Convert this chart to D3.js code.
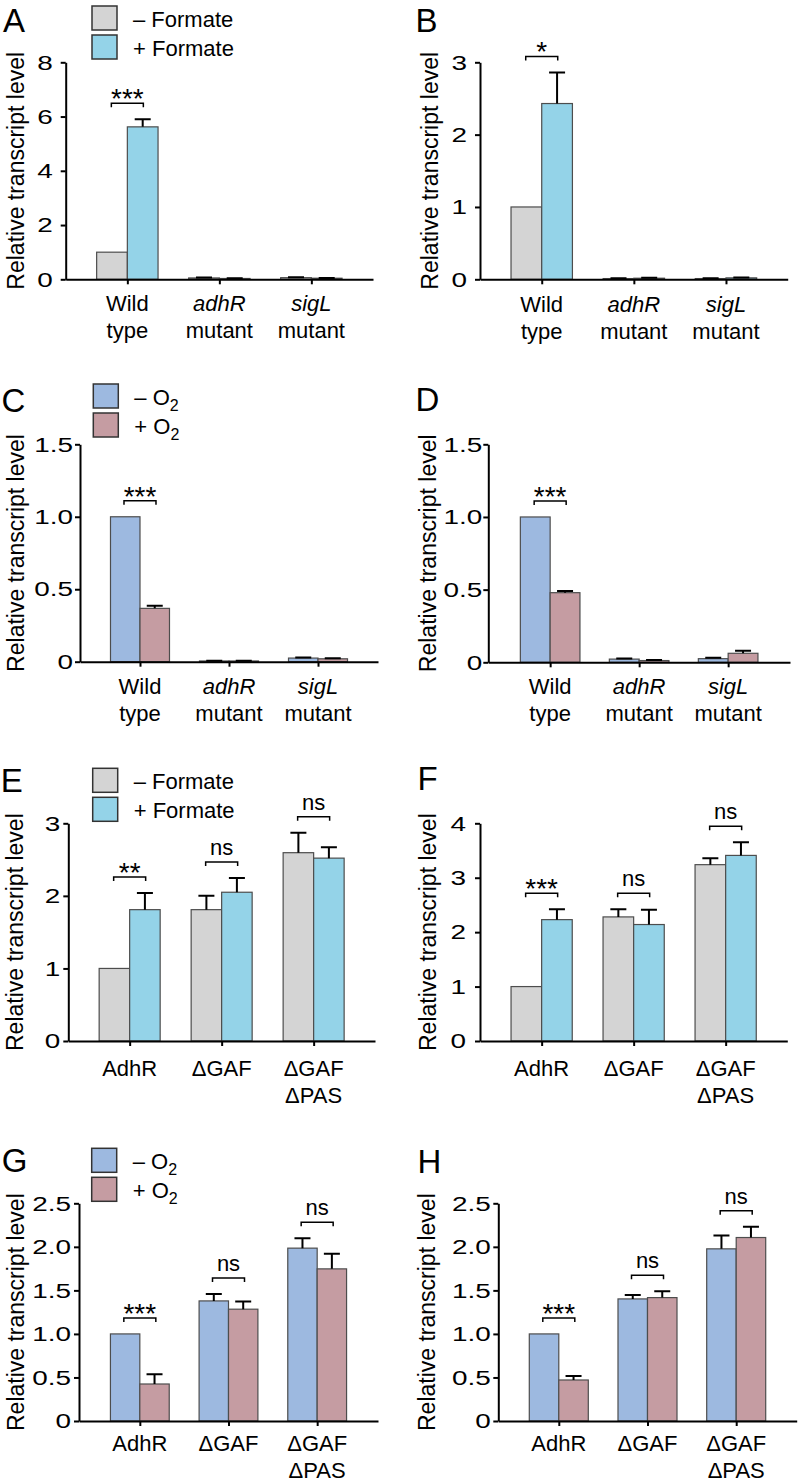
<!DOCTYPE html>
<html><head><meta charset="utf-8">
<script src="https://cdn.jsdelivr.net/npm/d3@7"></script>
<style>
body{margin:0;background:#fff}
svg{display:block}
text{font-family:"Liberation Sans",Arial,Helvetica,sans-serif;fill:#000}
</style>
</head><body>
<svg id="chart" width="800" height="1483"></svg>
<script>
// ---------------- DATA ----------------
const catsMutant = ["Wild type", "adhR mutant", "sigL mutant"];
const catLinesMutant = [["Wild", "type"], ["adhR", "mutant"], ["sigL", "mutant"]];
const catItalicMutant = [false, true, true];
const catsDomain = ["AdhR", "ΔGAF", "ΔGAF ΔPAS"];
const catLinesDomain = [["AdhR"], ["ΔGAF"], ["ΔGAF", "ΔPAS"]];
const catItalicDomain = [false, false, false];

const seriesFormate = ["– Formate", "+ Formate"];
const seriesOxygen = ["– O", "+ O"];   // subscript "2" appended

const ticksA = [0, 2, 4, 6, 8];           const tickLabelsA = ["0", "2", "4", "6", "8"];
const ticksB = [0, 1, 2, 3];              const tickLabelsB = ["0", "1", "2", "3"];
const ticksCD = [0, 0.5, 1, 1.5];         const tickLabelsCD = ["0", "0.5", "1.0", "1.5"];
const ticksE = [0, 1, 2, 3];              const tickLabelsE = ["0", "1", "2", "3"];
const ticksF = [0, 1, 2, 3, 4];           const tickLabelsF = ["0", "1", "2", "3", "4"];
const ticksGH = [0, 0.5, 1, 1.5, 2, 2.5]; const tickLabelsGH = ["0", "0.5", "1.0", "1.5", "2.0", "2.5"];

const A_minus = [1.0, 0.05, 0.06];   const A_minusErr = [0, 0.02, 0.02];
const A_plus  = [5.62, 0.03, 0.04];  const A_plusErr  = [0.28, 0.01, 0.01];
const A_sig = ["***", null, null];

const B_minus = [1.0, 0.01, 0.01];   const B_minusErr = [0, 0.005, 0.005];
const B_plus  = [2.43, 0.015, 0.02]; const B_plusErr  = [0.43, 0.005, 0.005];
const B_sig = ["*", null, null];

const C_minus = [1.0, 0.005, 0.025]; const C_minusErr = [0, 0.002, 0.004];
const C_plus  = [0.368, 0.005, 0.02]; const C_plusErr = [0.018, 0.002, 0.003];
const C_sig = ["***", null, null];

const D_minus = [1.0, 0.022, 0.025]; const D_minusErr = [0, 0.004, 0.006];
const D_plus  = [0.479, 0.012, 0.062]; const D_plusErr = [0.011, 0.003, 0.018];
const D_sig = ["***", null, null];

const E_minus = [1.0, 1.81, 2.595];  const E_minusErr = [0, 0.19, 0.275];
const E_plus  = [1.81, 2.05, 2.52];  const E_plusErr  = [0.23, 0.195, 0.15];
const E_sig = ["**", "ns", "ns"];

const F_minus = [1.0, 2.28, 3.24];   const F_minusErr = [0, 0.14, 0.12];
const F_plus  = [2.23, 2.14, 3.41];  const F_plusErr  = [0.19, 0.27, 0.24];
const F_sig = ["***", "ns", "ns"];

const G_minus = [1.0, 1.379, 1.985]; const G_minusErr = [0, 0.08, 0.115];
const G_plus  = [0.425, 1.284, 1.747]; const G_plusErr = [0.112, 0.087, 0.173];
const G_sig = ["***", "ns", "ns"];

const H_minus = [1.0, 1.402, 1.977]; const H_minusErr = [0, 0.046, 0.153];
const H_plus  = [0.471, 1.417, 2.107]; const H_plusErr = [0.046, 0.073, 0.123];
const H_sig = ["***", "ns", "ns"];

const colorsFormate = ["#d4d4d4", "#94d3e8"];
const colorsOxygen = ["#9db9e0", "#c59ca2"];

// ---------------- PANELS (options built from the arrays) ----------------
const panels = [
  {id:"A", cats:catsMutant, lines:catLinesMutant, ital:catItalicMutant, minus:A_minus, minusErr:A_minusErr, plus:A_plus, plusErr:A_plusErr, sig:A_sig, ticks:ticksA, tickLabels:tickLabelsA, series:seriesFormate, colors:colorsFormate, legend:true, sub:false,
   x0:65.7, x1:373, yT:62.3, y0:279.3, bw:30.7, pad:0.67, tp:8, lx:23.5, cy:32, lbl:[3,32], leg:[92,6]},
  {id:"B", cats:catsMutant, lines:catLinesMutant, ital:catItalicMutant, minus:B_minus, minusErr:B_minusErr, plus:B_plus, plusErr:B_plusErr, sig:B_sig, ticks:ticksB, tickLabels:tickLabelsB, series:seriesFormate, colors:colorsFormate, legend:false, sub:false,
   x0:480, x1:787.7, yT:62.3, y0:279.3, bw:30.7, pad:0.67, tp:8, lx:437.5, cy:32.4, lbl:[415.6,32]},
  {id:"C", cats:catsMutant, lines:catLinesMutant, ital:catItalicMutant, minus:C_minus, minusErr:C_minusErr, plus:C_plus, plusErr:C_plusErr, sig:C_sig, ticks:ticksCD, tickLabels:tickLabelsCD, series:seriesOxygen, colors:colorsOxygen, legend:true, sub:true,
   x0:80, x1:378, yT:444.3, y0:661.7, bw:29.5, pad:0.674, tp:2, lx:23.5, cy:32, lbl:[1.5,411.7], leg:[93.3,384]},
  {id:"D", cats:catsMutant, lines:catLinesMutant, ital:catItalicMutant, minus:D_minus, minusErr:D_minusErr, plus:D_plus, plusErr:D_plusErr, sig:D_sig, ticks:ticksCD, tickLabels:tickLabelsCD, series:seriesOxygen, colors:colorsOxygen, legend:false, sub:true,
   x0:488.3, x1:790, yT:444.3, y0:662.3, bw:29.8, pad:0.695, tp:1, lx:435.5, cy:32, lbl:[415.5,411]},
  {id:"E", cats:catsDomain, lines:catLinesDomain, ital:catItalicDomain, minus:E_minus, minusErr:E_minusErr, plus:E_plus, plusErr:E_plusErr, sig:E_sig, ticks:ticksE, tickLabels:tickLabelsE, series:seriesFormate, colors:colorsFormate, legend:true, sub:false,
   x0:68.3, x1:375, yT:823.3, y0:1041, bw:30.5, pad:0.667, tp:3, lx:23, cy:34.7, lbl:[0.7,791.7], leg:[92.7,768.3]},
  {id:"F", cats:catsDomain, lines:catLinesDomain, ital:catItalicDomain, minus:F_minus, minusErr:F_minusErr, plus:F_plus, plusErr:F_plusErr, sig:F_sig, ticks:ticksF, tickLabels:tickLabelsF, series:seriesFormate, colors:colorsFormate, legend:false, sub:false,
   x0:480, x1:787.3, yT:823.3, y0:1041, bw:30.6, pad:0.67, tp:9, lx:435.5, cy:34.7, lbl:[417.5,790]},
  {id:"G", cats:catsDomain, lines:catLinesDomain, ital:catItalicDomain, minus:G_minus, minusErr:G_minusErr, plus:G_plus, plusErr:G_plusErr, sig:G_sig, ticks:ticksGH, tickLabels:tickLabelsGH, series:seriesOxygen, colors:colorsOxygen, legend:true, sub:true,
   x0:79, x1:378, yT:1203.3, y0:1421, bw:29.4, pad:0.686, tp:3, lx:23.5, cy:29.7, lbl:[1.7,1171.5], leg:[91.7,1148.3]},
  {id:"H", cats:catsDomain, lines:catLinesDomain, ital:catItalicDomain, minus:H_minus, minusErr:H_minusErr, plus:H_plus, plusErr:H_plusErr, sig:H_sig, ticks:ticksGH, tickLabels:tickLabelsGH, series:seriesOxygen, colors:colorsOxygen, legend:false, sub:true,
   x0:498.3, x1:796.7, yT:1203.3, y0:1421, bw:29.5, pad:0.682, tp:2.5, lx:435, cy:30, lbl:[417.5,1173.3]}
];

const svg = d3.select("#chart");
svg.append("rect").attr("width", 800).attr("height", 1483).attr("fill", "#fff");

const TSX = 1.33; // horizontal stretch of y tick numerals

panels.forEach(p => {
  const g = svg.append("g").attr("class", "panel-" + p.id);
  const y = d3.scaleLinear().domain([0, p.ticks[p.ticks.length - 1]]).range([p.y0, p.yT]);
  const x = d3.scalePoint().domain(p.cats).range([p.x0, p.x1]).padding(p.pad);

  // bars
  const rows = p.cats.map((c, i) => ({c, i}));
  [0, 1].forEach(s => {
    const vals = s === 0 ? p.minus : p.plus;
    const errs = s === 0 ? p.minusErr : p.plusErr;
    const bx = d => s === 0 ? x(d.c) - p.bw : x(d.c);
    g.selectAll(null).data(rows).enter().append("rect")
      .attr("x", bx)
      .attr("y", d => y(vals[d.i]))
      .attr("width", p.bw)
      .attr("height", d => p.y0 - y(vals[d.i]))
      .attr("fill", p.colors[s])
      .attr("stroke", "#4d4d4d")
      .attr("stroke-width", 1.2);
    // error bars
    const eb = rows.filter(d => errs[d.i] > 0);
    g.selectAll(null).data(eb).enter().append("path")
      .attr("d", d => {
        const cx = bx(d) + p.bw / 2;
        const yt = y(vals[d.i] + errs[d.i]);
        return `M${cx},${y(vals[d.i])}V${yt}M${cx - 8},${yt}H${cx + 8}`;
      })
      .attr("fill", "none").attr("stroke", "#000").attr("stroke-width", 2);
  });

  // significance brackets
  const sg = rows.filter(d => p.sig[d.i]);
  sg.forEach(d => {
    const top = Math.max(p.minus[d.i] + p.minusErr[d.i], p.plus[d.i] + p.plusErr[d.i]);
    const yb = y(top) - 16;
    const cx = x(d.c);
    g.append("path")
      .attr("d", `M${cx - 16},${yb + 4}V${yb}H${cx + 16}V${yb + 4}`)
      .attr("fill", "none").attr("stroke", "#000").attr("stroke-width", 1.5);
    const isStar = p.sig[d.i].indexOf("*") >= 0;
    g.append("text")
      .attr("x", cx).attr("y", isStar ? yb + 5 : yb - 7)
      .attr("text-anchor", "middle")
      .attr("font-size", isStar ? 28 : 22)
      .text(p.sig[d.i]);
  });

  // y axis
  const ya = g.append("g").attr("transform", `translate(${p.x0},0)`)
    .call(d3.axisLeft(y).tickValues(p.ticks).tickSize(5).tickSizeOuter(0).tickPadding(p.tp)
      .tickFormat((d, i) => p.tickLabels[i]));
  ya.select(".domain").attr("stroke", "#000").attr("stroke-width", 2);
  ya.selectAll(".tick line").attr("stroke", "#000").attr("stroke-width", 2);
  ya.selectAll(".tick text")
    .attr("font-size", 21).attr("font-family", null).attr("fill", "#000")
    .attr("x", -(5 + p.tp) / TSX)
    .attr("transform", `scale(${TSX},1)`);

  // x axis
  const xa = g.append("g").attr("transform", `translate(0,${p.y0})`)
    .call(d3.axisBottom(x).tickSize(5).tickSizeOuter(0).tickFormat(""));
  xa.select(".domain").attr("stroke", "#000").attr("stroke-width", 2);
  xa.selectAll(".tick line").attr("stroke", "#000").attr("stroke-width", 2);

  // category labels
  rows.forEach(d => {
    p.lines[d.i].forEach((ln, k) => {
      g.append("text")
        .attr("x", x(d.c)).attr("y", p.y0 + p.cy + k * 27)
        .attr("text-anchor", "middle").attr("font-size", 22)
        .attr("font-style", (k === 0 && p.ital[d.i]) ? "italic" : "normal")
        .text(ln);
    });
  });

  // y axis title
  g.append("text")
    .attr("transform", `translate(${p.lx},${(p.yT + p.y0) / 2}) rotate(-90)`)
    .attr("text-anchor", "middle").attr("font-size", 23)
    .text("Relative transcript level");

  // panel letter
  g.append("text").attr("x", p.lbl[0]).attr("y", p.lbl[1]).attr("font-size", 33).text(p.id);

  // legend
  if (p.legend) {
    const [lx, ly] = p.leg;
    p.series.forEach((s, k) => {
      const by = ly + k * 29;
      g.append("rect").attr("x", lx).attr("y", by).attr("width", 25).attr("height", 24)
        .attr("fill", p.colors[k]).attr("stroke", "#333").attr("stroke-width", 1.5);
      const t = g.append("text").attr("x", lx + 41).attr("y", by + 21).attr("font-size", 22);
      t.append("tspan").text(s);
      if (p.sub) t.append("tspan").attr("font-size", 16).attr("dy", 6).text("2");
    });
  }
});
</script>
</body></html>
